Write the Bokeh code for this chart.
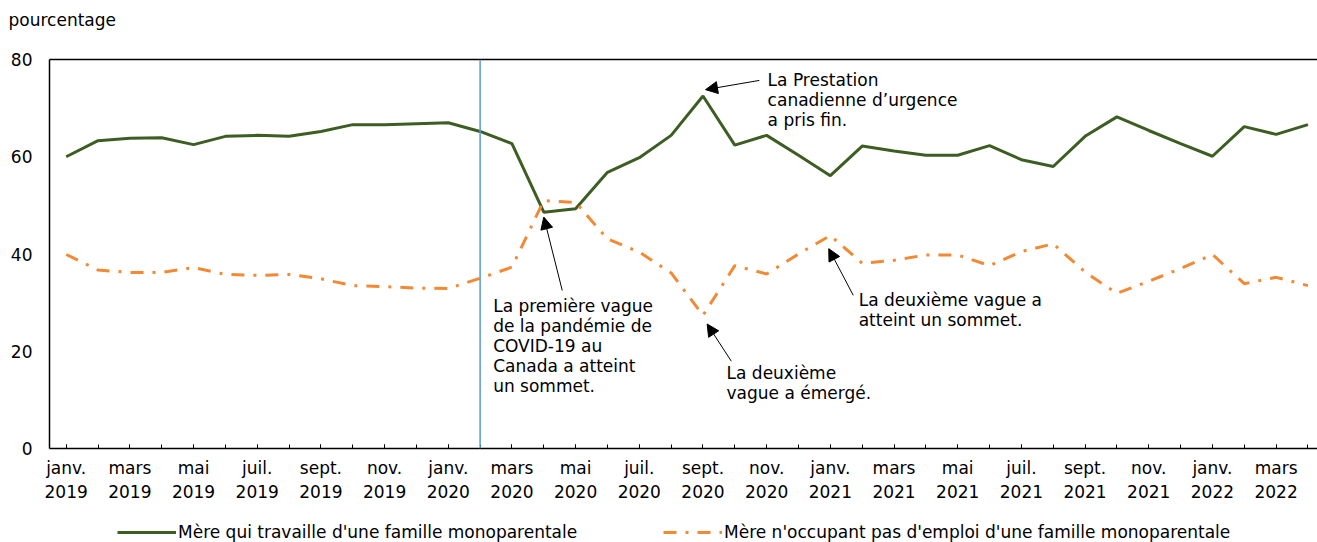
from bokeh.plotting import figure
from bokeh.layouts import column
from bokeh.models import (Range1d, FixedTicker, LinearAxis, Span, Label, Arrow,
                          NormalHead, Legend, LegendItem)
from bokeh.embed import file_html
from bokeh.resources import INLINE

# ---- data ----
months_fr = ["janv.", "févr.", "mars", "avr.", "mai", "juin",
             "juil.", "août", "sept.", "oct.", "nov.", "déc."]
start_year = 2019
n_months = 40  # janv. 2019 .. avr. 2022

working = [60.0, 63.3, 63.8, 63.9, 62.5, 64.2, 64.4, 64.2, 65.2, 66.6,
           66.6, 66.8, 67.0, 65.2, 62.7, 48.6, 49.3, 56.8, 59.8, 64.4,
           72.5, 62.4, 64.4, 60.3, 56.1, 62.2, 61.2, 60.3, 60.3, 62.3,
           59.4, 58.0, 64.2, 68.2, 65.4, 62.7, 60.1, 66.2, 64.6, 66.6]
not_working = [39.9, 36.7, 36.2, 36.2, 37.2, 35.8, 35.6, 35.8, 34.9, 33.5,
               33.3, 33.0, 32.9, 35.0, 37.3, 51.0, 50.6, 43.1, 40.4, 36.1,
               27.4, 37.6, 35.9, 40.0, 43.8, 38.1, 38.7, 39.8, 39.8, 37.6,
               40.5, 42.1, 36.3, 31.9, 34.4, 37.0, 39.9, 33.9, 35.2, 33.5]

series_names = ["Mère qui travaille d'une famille monoparentale",
                "Mère n'occupant pas d'emploi d'une famille monoparentale"]
y_unit = "pourcentage"
y_ticks = [0, 20, 40, 60, 80]
covid_marker_index = 13  # févr. 2020

x = list(range(n_months))
tick_labels = {}
for i in range(0, n_months, 2):
    tick_labels[i] = f"{months_fr[i % 12]}\n{start_year + i // 12}"

FONT = "DejaVu Sans"
GREEN = "#3d5e23"
ORANGE = "#f28a35"
BLUE = "#5b9bd5"
DASH = "13 9 3 9"


def blank_strip(height, top):
    f = figure(width=1317, height=height, output_backend="svg",
               toolbar_location=None, x_range=Range1d(-0.524, 39.30),
               y_range=Range1d(-2, -1), x_axis_type=None, y_axis_type=None,
               min_border_left=49, min_border_right=0, min_border_top=top,
               min_border_bottom=0)
    f.outline_line_color = None
    f.xgrid.visible = False
    f.ygrid.visible = False
    f.background_fill_color = "white"
    f.border_fill_color = "white"
    return f


# ---- top strip: unit label ----
hd = blank_strip(30, 29)
hd.title.text = y_unit
hd.title.align = "left"
hd.title.offset = -41
hd.title.standoff = 0
hd.title.text_font = FONT
hd.title.text_font_size = "17px"
hd.title.text_font_style = "normal"
hd.title.text_color = "black"

# ---- main chart ----
p = figure(width=1317, height=482, output_backend="svg", toolbar_location=None,
           x_range=Range1d(-0.524, 39.30), y_range=Range1d(0, 80),
           min_border_left=49, min_border_right=0, min_border_top=29,
           min_border_bottom=64)
p.outline_line_color = None
p.xgrid.visible = False
p.ygrid.visible = False
p.background_fill_color = "white"
p.border_fill_color = "white"

# x axis
xa = p.xaxis[0]
xa.ticker = FixedTicker(ticks=list(range(0, n_months, 2)), minor_ticks=x)
xa.major_label_overrides = tick_labels
xa.major_tick_in = 4
xa.major_tick_out = 0
xa.minor_tick_in = 4
xa.minor_tick_out = 0
xa.major_tick_line_width = 1
xa.minor_tick_line_width = 1
xa.axis_line_width = 1.5
xa.axis_line_color = "black"
xa.major_label_text_font = FONT
xa.major_label_text_font_size = "17px"
xa.major_label_text_color = "black"
xa.major_label_standoff = 9

# y axis
ya = p.yaxis[0]
ya.ticker = FixedTicker(ticks=y_ticks)
ya.major_tick_in = 0
ya.major_tick_out = 0
ya.minor_tick_line_color = None
ya.axis_line_width = 1.5
ya.axis_line_color = "black"
ya.major_label_text_font = FONT
ya.major_label_text_font_size = "17px"
ya.major_label_text_color = "black"
ya.major_label_standoff = 17

# top border line
top = LinearAxis(ticker=FixedTicker(ticks=[]), major_tick_line_color=None,
                 minor_tick_line_color=None, axis_line_width=1.5,
                 axis_line_color="black", major_label_text_font_size="0px")
p.add_layout(top, "above")

# covid marker
p.add_layout(Span(location=covid_marker_index, dimension="height",
                  line_color=BLUE, line_width=1.5))

r1 = p.line(x, working, line_color=GREEN, line_width=3)
r2 = p.line(x, not_working, line_color=ORANGE, line_width=3, line_dash=DASH)

# annotations
ann_style = dict(text_font=FONT, text_font_size="17px", text_color="black",
                 text_align="left", text_baseline="middle", text_line_height=1.0)
p.add_layout(Label(x=22.03, y=71.57,
                   text="La Prestation\ncanadienne d’urgence\na pris fin.", **ann_style))
p.add_layout(Label(x=13.41, y=20.98,
                   text="La première vague\nde la pandémie de\nCOVID-19 au\nCanada a atteint\nun sommet.",
                   **ann_style))
p.add_layout(Label(x=20.74, y=13.49,
                   text="La deuxième\nvague a émergé.", **ann_style))
p.add_layout(Label(x=24.89, y=28.52,
                   text="La deuxième vague a\natteint un sommet.", **ann_style))

def arrow(xs, ys, xe, ye):
    p.add_layout(Arrow(end=NormalHead(size=12, fill_color="black",
                                      line_color="black", line_width=1),
                       x_start=xs, y_start=ys, x_end=xe, y_end=ye,
                       line_color="black", line_width=1))

arrow(21.77, 75.7, 20.08, working[20] + 1.3)
arrow(15.58, 32.5, 15.0, working[15] - 1.0)
arrow(20.89, 17.95, 20.13, not_working[20] - 1.8)
arrow(24.72, 31.5, 23.95, not_working[24] - 2.7)

# ---- legend strip (same series, drawn out of view; only the keys show) ----
lg = blank_strip(30, 0)
k1 = lg.line(x, working, line_color=GREEN, line_width=3)
k2 = lg.line(x, not_working, line_color=ORANGE, line_width=3, line_dash=DASH)

leg_style = dict(orientation="horizontal", border_line_color=None,
                 background_fill_alpha=0, padding=0, margin=0,
                 glyph_width=59, glyph_height=20, label_standoff=2,
                 label_text_font=FONT, label_text_font_size="17px",
                 label_text_color="black", spacing=0)
leg1 = Legend(items=[LegendItem(label=series_names[0], renderers=[k1])],
              location=(68, 0), **leg_style)
leg2 = Legend(items=[LegendItem(label=series_names[1], renderers=[k2])],
              location=(614, 0), **leg_style)
lg.add_layout(leg1)
lg.add_layout(leg2)

layout = column(hd, p, lg, spacing=0)
open("out.html", "w").write(file_html(layout, INLINE))
